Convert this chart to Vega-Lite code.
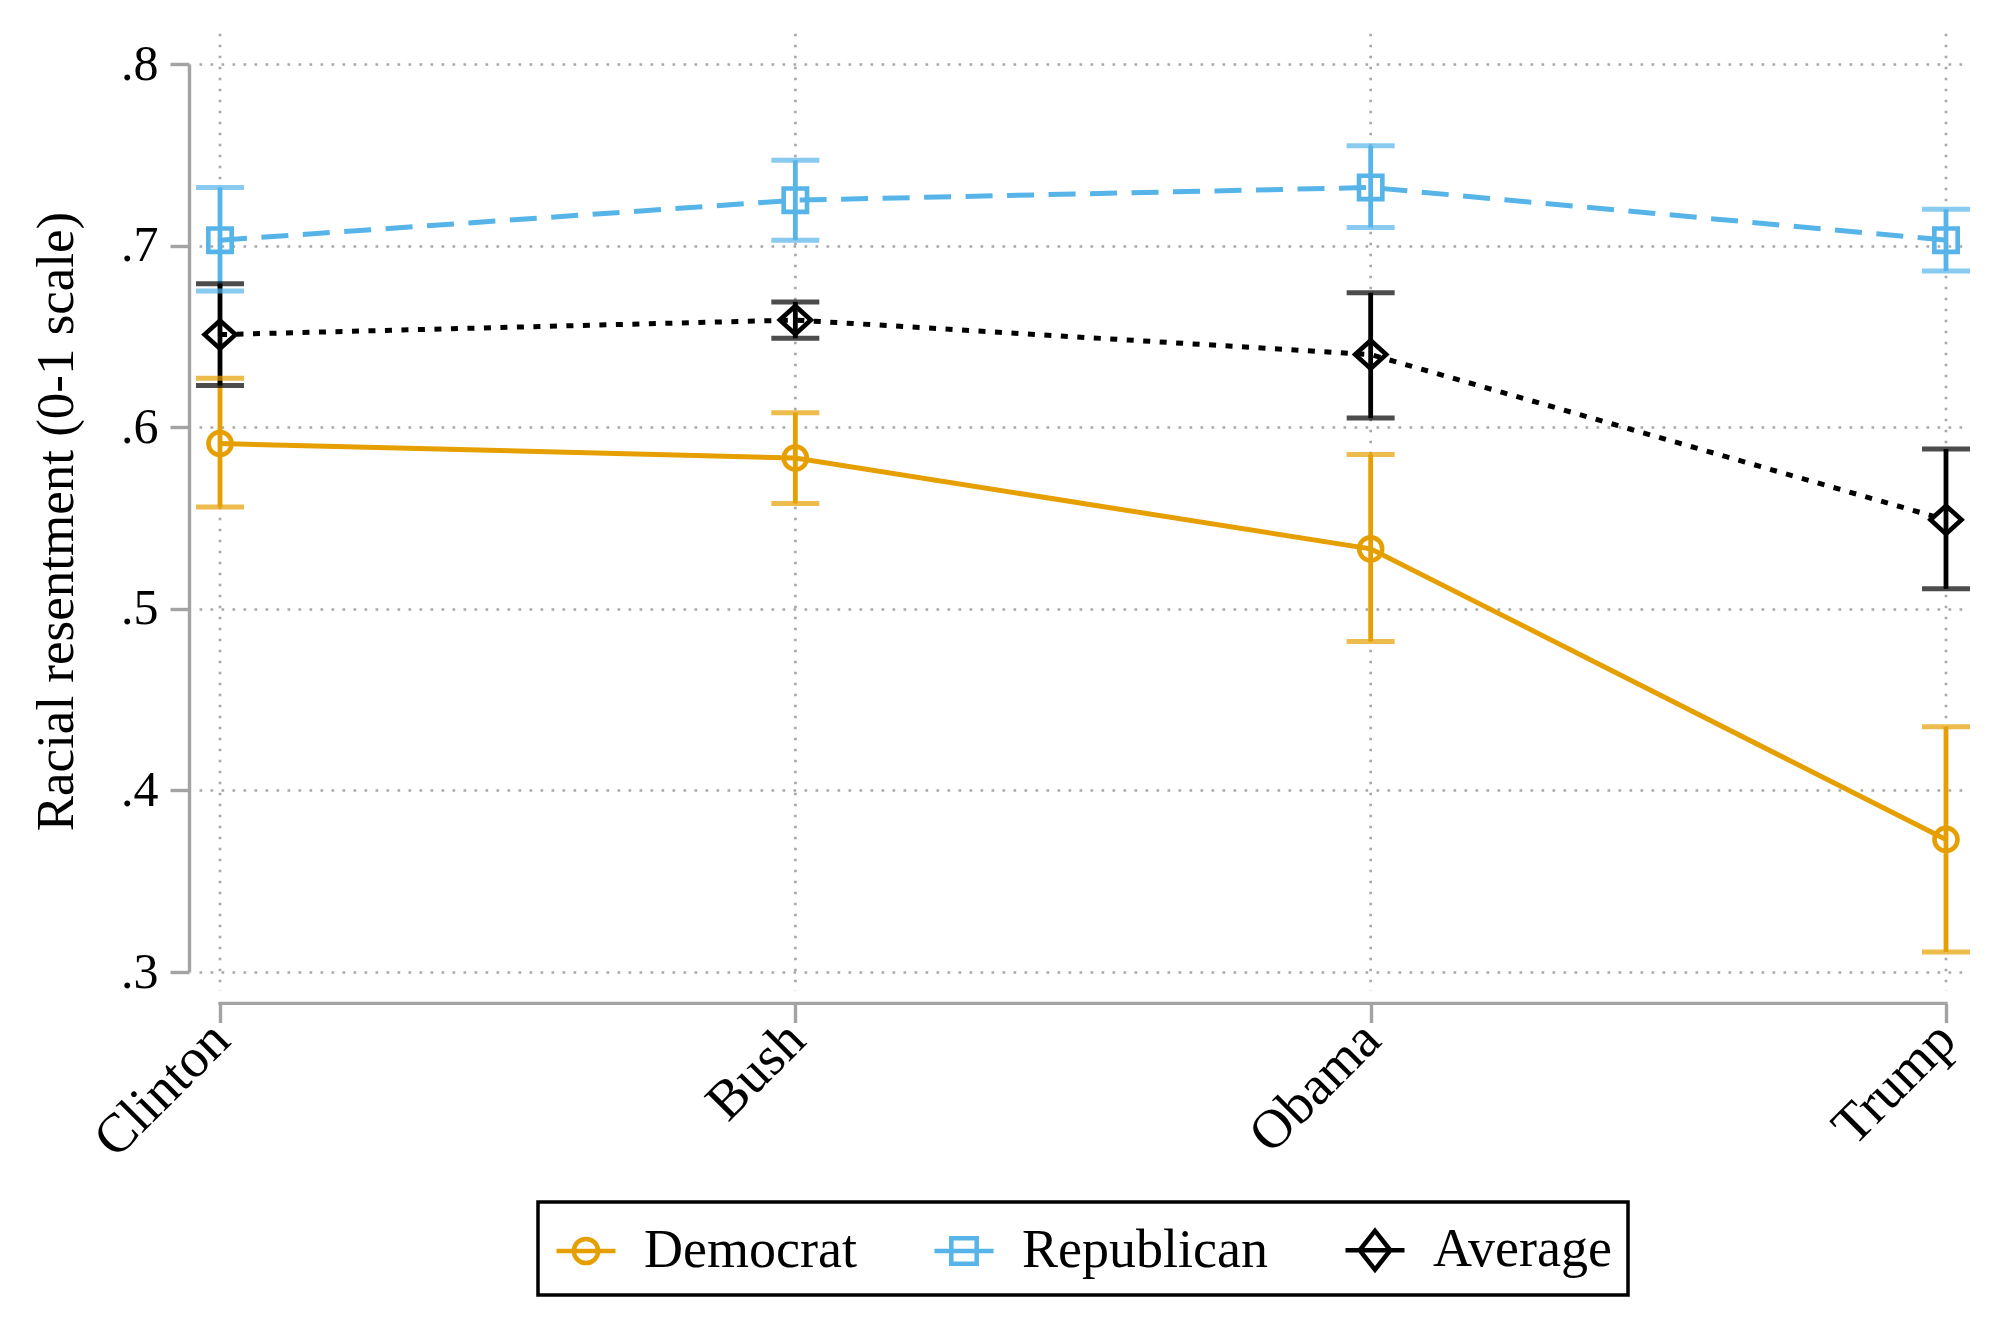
{
  "$schema": "https://vega.github.io/schema/vega-lite/v6.json",
  "width": 1768,
  "height": 908,
  "autosize": {"type": "none"},
  "padding": {"left": 199, "top": 64, "right": 49, "bottom": 355},
  "background": "white",
  "config": {
    "font": "Liberation Serif",
    "view": {"stroke": null},
    "axis": {
      "labelFont": "Liberation Serif",
      "titleFont": "Liberation Serif",
      "labelColor": "#000000",
      "titleColor": "#000000",
      "titleFontWeight": "normal",
      "domainColor": "#a3a3a3",
      "domainWidth": 3.4,
      "tickColor": "#a3a3a3",
      "tickWidth": 3.4,
      "tickSize": 19,
      "gridColor": "#a8a8a8",
      "gridDash": [2.7, 8.3],
      "gridWidth": 2.7,
      "labelOverlap": false,
      "labelBound": false,
      "labelFlush": false
    }
  },
  "data": {
    "values": [
      {"president": "Clinton", "series": "Democrat", "mean": 0.591, "lo": 0.556, "hi": 0.627},
      {"president": "Bush", "series": "Democrat", "mean": 0.583, "lo": 0.558, "hi": 0.608},
      {"president": "Obama", "series": "Democrat", "mean": 0.533, "lo": 0.482, "hi": 0.585},
      {"president": "Trump", "series": "Democrat", "mean": 0.373, "lo": 0.311, "hi": 0.435},
      {"president": "Clinton", "series": "Republican", "mean": 0.703, "lo": 0.675, "hi": 0.732},
      {"president": "Bush", "series": "Republican", "mean": 0.725, "lo": 0.703, "hi": 0.747},
      {"president": "Obama", "series": "Republican", "mean": 0.732, "lo": 0.710, "hi": 0.755},
      {"president": "Trump", "series": "Republican", "mean": 0.703, "lo": 0.686, "hi": 0.720},
      {"president": "Clinton", "series": "Average", "mean": 0.651, "lo": 0.623, "hi": 0.679},
      {"president": "Bush", "series": "Average", "mean": 0.659, "lo": 0.649, "hi": 0.669},
      {"president": "Obama", "series": "Average", "mean": 0.640, "lo": 0.605, "hi": 0.674},
      {"president": "Trump", "series": "Average", "mean": 0.549, "lo": 0.511, "hi": 0.588}
    ]
  },
  "encoding": {
    "x": {
      "field": "president",
      "type": "ordinal",
      "sort": ["Clinton", "Bush", "Obama", "Trump"],
      "scale": {"type": "point", "padding": 0.0365},
      "axis": {
        "title": null,
        "offset": 31.5,
        "grid": false,
        "domain": false,
        "labelAngle": -45,
        "labelAlign": "right",
        "labelBaseline": "middle",
        "labelFontSize": 55,
        "labelPadding": 8,
        "labelDx": 6
      }
    },
    "color": {
      "field": "series",
      "type": "nominal",
      "scale": {"domain": ["Democrat", "Republican", "Average"], "range": ["#E69F00", "#56B4E9", "#000000"]},
      "legend": {
        "orient": "none",
        "legendX": 339,
        "legendY": 1138,
        "direction": "horizontal",
        "title": null,
        "symbolSize": 3481,
        "symbolStrokeWidth": 4.5,
        "symbolFillColor": "transparent",
        "symbolOpacity": 1,
        "labelFont": "Liberation Serif",
        "labelFontSize": 54,
        "labelColor": "#000000",
        "labelLimit": 0,
        "labelOffset": 26,
        "columnPadding": 68,
        "padding": 16,
        "strokeColor": "#000000",
        "fillColor": "#ffffff",
        "cornerRadius": 0,
        "encode": {"legend": {"update": {"strokeWidth": {"value": 3.5}}}}
      }
    }
  },
  "layer": [
    {
      "transform": [{"filter": "datum.series === 'Average'"}],
      "mark": {"type": "rule", "strokeWidth": 2.7, "strokeDash": [2.7, 8.3]},
      "encoding": {
        "color": {"value": "#a8a8a8"},
        "y": {"datum": 0.8167, "type": "quantitative", "title": "Racial resentment (0-1 scale)", "scale": {"domain": [0.3, 0.8], "zero": false, "nice": false}},
        "y2": {"datum": 0.2895}
      }
    },
    {
      "transform": [{"filter": "datum.series === 'Average'"}],
      "mark": {"type": "line", "strokeWidth": 3.4, "strokeCap": "square"},
      "encoding": {
        "color": {"value": "#a3a3a3"},
        "y": {"datum": 0.2827, "type": "quantitative", "title": "Racial resentment (0-1 scale)", "scale": {"domain": [0.3, 0.8], "zero": false, "nice": false}}
      }
    },
    {
      "mark": {"type": "point", "filled": false, "opacity": 0, "strokeWidth": 4.5, "size": 100},
      "encoding": {
        "y": {"field": "mean", "type": "quantitative", "title": "Racial resentment (0-1 scale)", "scale": {"domain": [0.3, 0.8], "zero": false, "nice": false}},
        "shape": {
          "field": "series",
          "type": "nominal",
          "scale": {
            "domain": ["Democrat", "Republican", "Average"],
            "range": [
              "M-1,0L1,0M-0.41,0A0.41,0.41,0,1,1,0.41,0A0.41,0.41,0,1,1,-0.41,0Z",
              "M-1,0L1,0M-0.43,-0.43L0.43,-0.43L0.43,0.43L-0.43,0.43Z",
              "M-1,0L1,0M-0.52,0L0,-0.66L0.52,0L0,0.66Z"
            ]
          },
          "legend": {
            "orient": "none",
            "legendX": 339,
            "legendY": 1138,
            "direction": "horizontal",
            "title": null,
            "symbolSize": 3481,
            "symbolStrokeWidth": 4.5,
            "symbolFillColor": "transparent",
            "symbolOpacity": 1,
            "labelFont": "Liberation Serif",
            "labelFontSize": 54,
            "labelColor": "#000000",
            "labelLimit": 0,
            "labelOffset": 26,
            "columnPadding": 68,
            "padding": 16,
            "strokeColor": "#000000",
            "fillColor": "#ffffff",
            "cornerRadius": 0,
            "encode": {"legend": {"update": {"strokeWidth": {"value": 3.5}}}}
          }
        }
      }
    },
    {
      "mark": {"type": "rule", "strokeWidth": 4.8},
      "encoding": {
        "y": {
          "field": "lo",
          "type": "quantitative",
          "title": "Racial resentment (0-1 scale)",
          "scale": {"domain": [0.3, 0.8], "zero": false, "nice": false},
          "axis": {
            "offset": 10,
            "values": [0.3, 0.4, 0.5, 0.6, 0.7, 0.8],
            "labelExpr": "substring(format(datum.value, '.1f'), 1)",
            "labelFontSize": 50,
            "labelPadding": 12,
            "grid": true,
            "domain": true,
            "titleFontSize": 53,
            "titleAngle": -90,
            "titleBaseline": "alphabetic",
            "titleAlign": "center",
            "titleX": -117,
            "titleY": 457
          }
        },
        "y2": {"field": "hi"}
      }
    },
    {
      "mark": {"type": "tick", "orient": "horizontal", "size": 45, "thickness": 2, "filled": false, "strokeWidth": 3},
      "encoding": {
        "y": {"field": "lo", "type": "quantitative", "title": "Racial resentment (0-1 scale)", "scale": {"domain": [0.3, 0.8], "zero": false, "nice": false}}
      }
    },
    {
      "mark": {"type": "tick", "orient": "horizontal", "size": 45, "thickness": 2, "filled": false, "strokeWidth": 3},
      "encoding": {
        "y": {"field": "hi", "type": "quantitative", "title": "Racial resentment (0-1 scale)", "scale": {"domain": [0.3, 0.8], "zero": false, "nice": false}}
      }
    },
    {
      "transform": [{"filter": "datum.series === 'Democrat'"}],
      "mark": {"type": "line", "strokeWidth": 5, "strokeCap": "butt"},
      "encoding": {
        "y": {"field": "mean", "type": "quantitative", "title": "Racial resentment (0-1 scale)", "scale": {"domain": [0.3, 0.8], "zero": false, "nice": false}}
      }
    },
    {
      "transform": [{"filter": "datum.series === 'Republican'"}],
      "mark": {"type": "line", "strokeWidth": 5, "strokeCap": "butt", "strokeDash": [27, 14.5]},
      "encoding": {
        "y": {"field": "mean", "type": "quantitative", "title": "Racial resentment (0-1 scale)", "scale": {"domain": [0.3, 0.8], "zero": false, "nice": false}}
      }
    },
    {
      "transform": [{"filter": "datum.series === 'Average'"}],
      "mark": {"type": "line", "strokeWidth": 5, "strokeCap": "butt", "strokeDash": [7, 9.5]},
      "encoding": {
        "y": {"field": "mean", "type": "quantitative", "title": "Racial resentment (0-1 scale)", "scale": {"domain": [0.3, 0.8], "zero": false, "nice": false}}
      }
    },
    {
      "transform": [{"filter": "datum.series === 'Democrat'"}],
      "mark": {"type": "point", "filled": false, "size": 1024, "strokeWidth": 4.6, "opacity": 1, "shape": "M-0.72,0A0.72,0.72,0,1,1,0.72,0A0.72,0.72,0,1,1,-0.72,0Z"},
      "encoding": {
        "y": {"field": "mean", "type": "quantitative", "title": "Racial resentment (0-1 scale)", "scale": {"domain": [0.3, 0.8], "zero": false, "nice": false}}
      }
    },
    {
      "transform": [{"filter": "datum.series === 'Republican'"}],
      "mark": {"type": "point", "filled": false, "size": 1024, "strokeWidth": 4.6, "opacity": 1, "shape": "M-0.73,-0.73L0.73,-0.73L0.73,0.73L-0.73,0.73Z"},
      "encoding": {
        "y": {"field": "mean", "type": "quantitative", "title": "Racial resentment (0-1 scale)", "scale": {"domain": [0.3, 0.8], "zero": false, "nice": false}}
      }
    },
    {
      "transform": [{"filter": "datum.series === 'Average'"}],
      "mark": {"type": "point", "filled": false, "size": 1024, "strokeWidth": 4.6, "opacity": 1, "shape": "M-0.97,0L0,-0.88L0.97,0L0,0.88Z"},
      "encoding": {
        "y": {"field": "mean", "type": "quantitative", "title": "Racial resentment (0-1 scale)", "scale": {"domain": [0.3, 0.8], "zero": false, "nice": false}}
      }
    }
  ]
}
